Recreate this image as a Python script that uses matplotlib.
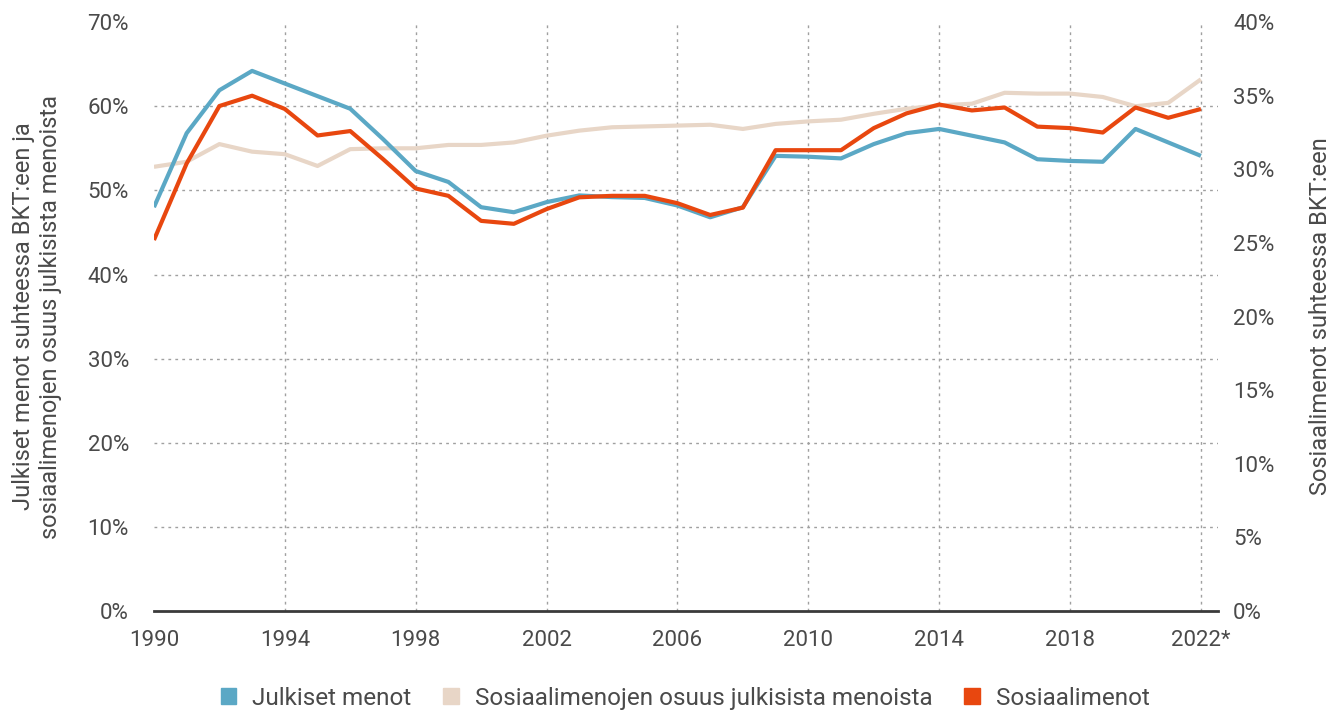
import numpy as np
import matplotlib.pyplot as plt
from matplotlib.patches import Patch

plt.rcParams['font.family'] = ['Roboto', 'DejaVu Sans']

# Data
years = list(range(1990, 2023))
julkiset = [48.0, 56.8, 61.9, 64.2, 62.7, 61.2, 59.7, 56.1, 52.3, 51.0,
            48.0, 47.4, 48.6, 49.4, 49.2, 49.1, 48.2, 46.8, 48.0, 54.1,
            54.0, 53.8, 55.5, 56.8, 57.3, 56.5, 55.7, 53.7, 53.5, 53.4,
            57.3, 55.7, 54.1]
osuus = [52.8, 53.4, 55.5, 54.6, 54.3, 52.9, 54.9, 55.0, 55.0, 55.4,
         55.4, 55.7, 56.5, 57.1, 57.5, 57.6, 57.7, 57.8, 57.3, 57.9,
         58.2, 58.4, 59.1, 59.7, 60.1, 60.3, 61.6, 61.5, 61.5, 61.1,
         60.0, 60.4, 63.2]
sosiaali = [25.2, 30.4, 34.3, 35.0, 34.1, 32.3, 32.6, 30.7, 28.7, 28.2,
            26.5, 26.3, 27.3, 28.1, 28.2, 28.2, 27.7, 26.9, 27.4, 31.3,
            31.3, 31.3, 32.8, 33.8, 34.4, 34.0, 34.2, 32.9, 32.8, 32.5,
            34.2, 33.5, 34.1]
xticks = [1990, 1994, 1998, 2002, 2006, 2010, 2014, 2018, 2022]
xlabels = ['1990', '1994', '1998', '2002', '2006', '2010', '2014', '2018', '2022*']
left_ticks = list(range(0, 71, 10))
right_ticks = list(range(0, 41, 5))
names = ['Julkiset menot', 'Sosiaalimenojen osuus julkisista menoista', 'Sosiaalimenot']

c_blue = '#5BA8C5'
c_beige = '#E8D6C7'
c_red = '#E8470F'
txt = '#4a4a4a'
grid = '#a0a0a0'

fig = plt.figure(figsize=(13.34, 7.13), dpi=100)
ax = fig.add_axes([0.1154, 0.143, 0.7976, 0.826])
ax2 = ax.twinx()

# dotted grid, without the 1990 vertical and the 70% horizontal line
for x in xticks[1:]:
    ax.axvline(x, color=grid, linestyle=(0, (2, 3)), linewidth=1, zorder=1)
for y in left_ticks[1:-1]:
    ax.axhline(y, color=grid, linestyle=(0, (2, 3)), linewidth=1, zorder=1)

ax.plot(years, osuus, color=c_beige, lw=3, solid_capstyle='butt', zorder=3)
ax.plot(years, julkiset, color=c_blue, lw=3, solid_capstyle='butt', zorder=4)
ax2.plot(years, sosiaali, color=c_red, lw=3, solid_capstyle='butt', zorder=5)

ax.set_xlim(1990, 2022.52)
ax.set_ylim(0, 70)
ax2.set_ylim(0, 40)

ax.set_xticks(xticks)
ax.set_xticklabels(xlabels)
ax.set_yticks(left_ticks)
ax.set_yticklabels([f'{v}%' for v in left_ticks])
ax2.set_yticks(right_ticks)
ax2.set_yticklabels([f'{v}%' for v in right_ticks])

for a in (ax, ax2):
    for s in a.spines.values():
        s.set_visible(False)
    a.tick_params(length=0, labelsize=16, labelcolor=txt)
ax.spines['bottom'].set_visible(True)
ax.spines['bottom'].set_color('#3a3a3a')
ax.spines['bottom'].set_linewidth(2)
ax.tick_params(axis='x', pad=14)
ax.tick_params(axis='y', pad=18)
ax2.tick_params(axis='y', pad=11)

ax.set_ylabel('Julkiset menot suhteessa BKT:een ja\nsosiaalimenojen osuus julkisista menoista',
              fontsize=17, color=txt, linespacing=1.25)
ax.yaxis.set_label_coords(-0.086, 0.5)
ax2.set_ylabel('Sosiaalimenot suhteessa BKT:een', fontsize=17, color=txt)
ax2.yaxis.set_label_coords(1.0855, 0.5)

handles = [Patch(color=c) for c in (c_blue, c_beige, c_red)]
fig.legend(handles, names, loc='center', bbox_to_anchor=(0.5135, 0.021), ncol=3,
           frameon=False, fontsize=17.5, labelcolor=txt, handlelength=0.65, handleheight=0.65,
           handletextpad=0.65, columnspacing=1.3)

fig.savefig('out.png', dpi=100)
